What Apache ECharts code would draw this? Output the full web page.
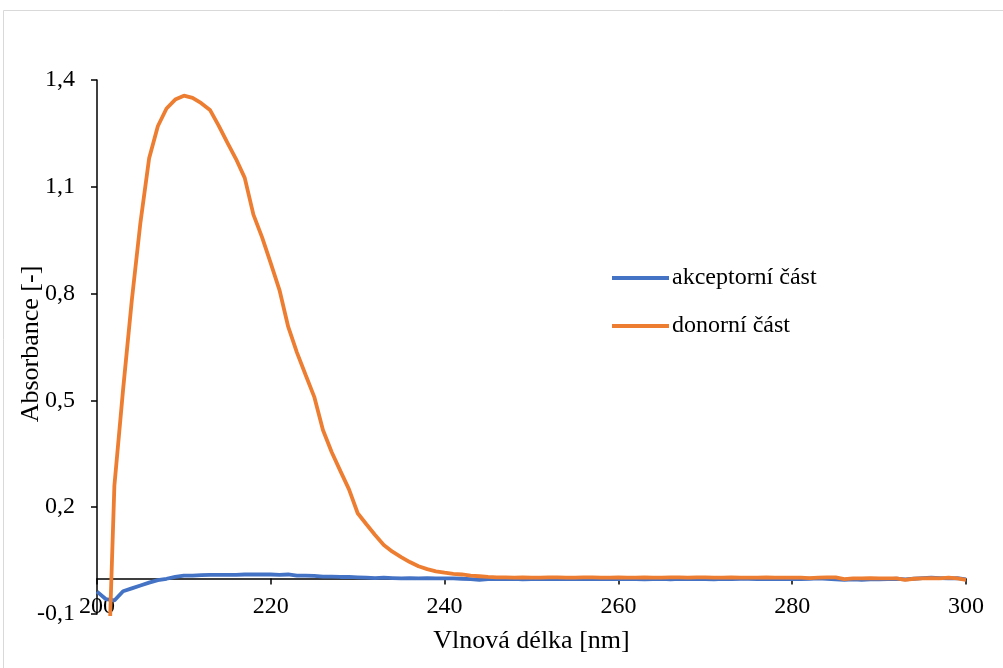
<!DOCTYPE html>
<html>
<head>
<meta charset="utf-8">
<title>Absorbance</title>
<script src="https://cdn.jsdelivr.net/npm/echarts@6/dist/echarts.min.js"></script>
<style>
  html, body { margin: 0; padding: 0; background: #fff; }
  #main { width: 1003px; height: 668px; }
</style>
</head>
<body>
<div id="main"></div>
<script>
// wavelength [nm]
var wavelengths = [
  200, 201, 202, 203, 204, 205, 206, 207, 208, 209,
  210, 211, 212, 213, 214, 215, 216, 217, 218, 219,
  220, 221, 222, 223, 224, 225, 226, 227, 228, 229,
  230, 231, 232, 233, 234, 235, 236, 237, 238, 239,
  240, 241, 242, 243, 244, 245, 246, 247, 248, 249,
  250, 251, 252, 253, 254, 255, 256, 257, 258, 259,
  260, 261, 262, 263, 264, 265, 266, 267, 268, 269,
  270, 271, 272, 273, 274, 275, 276, 277, 278, 279,
  280, 281, 282, 283, 284, 285, 286, 287, 288, 289,
  290, 291, 292, 293, 294, 295, 296, 297, 298, 299,
  300
];

// akceptorni cast
var akceptorni = [
  -0.037, -0.058, -0.062, -0.036, -0.028, -0.020, -0.012, -0.005, -0.001, 0.004,
  0.008, 0.008, 0.009, 0.010, 0.010, 0.010, 0.010, 0.011, 0.011, 0.011,
  0.011, 0.010, 0.011, 0.008, 0.008, 0.007, 0.005, 0.005, 0.004, 0.004,
  0.003, 0.002, 0.001, 0.002, 0.001, 0.000, 0.001, 0.000, 0.001, 0.000,
  0.000, 0.000, -0.001, -0.002, -0.004, -0.002, -0.001, -0.002, -0.001, -0.003,
  -0.002, -0.001, -0.002, -0.001, -0.002, -0.002, -0.001, -0.002, -0.001, -0.002,
  -0.002, -0.001, -0.002, -0.003, -0.002, -0.001, -0.003, -0.001, -0.002, -0.001,
  -0.002, -0.003, -0.001, -0.002, -0.001, -0.001, -0.002, -0.001, -0.002, -0.001,
  -0.002, -0.002, -0.001, 0.000, -0.001, -0.003, -0.004, -0.003, -0.004, -0.003,
  -0.003, -0.002, -0.001, -0.003, -0.001, 0.001, 0.002, 0.001, 0.000, 0.001,
  -0.003
];

// donorni cast
var donorni = [
  -0.6, -0.5, 0.26, 0.53, 0.78, 1.0, 1.18, 1.27, 1.32, 1.345,
  1.356, 1.35, 1.335, 1.316, 1.272, 1.224, 1.178, 1.125, 1.022, 0.958,
  0.885, 0.81, 0.707, 0.635, 0.572, 0.51, 0.417, 0.355, 0.302, 0.25,
  0.183, 0.152, 0.122, 0.094, 0.075, 0.06, 0.046, 0.034, 0.026, 0.02,
  0.016, 0.013, 0.011, 0.008, 0.006, 0.004, 0.003, 0.003, 0.002, 0.003,
  0.002, 0.002, 0.003, 0.003, 0.002, 0.002, 0.003, 0.003, 0.002, 0.002,
  0.003, 0.002, 0.002, 0.003, 0.002, 0.002, 0.003, 0.003, 0.002, 0.003,
  0.003, 0.002, 0.002, 0.003, 0.002, 0.002, 0.002, 0.003, 0.002, 0.002,
  0.002, 0.002, 0.001, 0.002, 0.003, 0.003, -0.002, 0.000, 0.000, 0.001,
  0.000, 0.000, 0.000, -0.004, -0.001, 0.000, 0.001, 0.000, 0.002, 0.000,
  -0.004
];

var seriesNames = ['akceptorní část', 'donorní část'];
var seriesColors = ['#4472C4', '#ED7D31'];

function pairs(ys) {
  return wavelengths.map(function (x, i) { return [x, ys[i]]; });
}

var font = 'Liberation Serif, Times New Roman, serif';
var chart = echarts.init(document.getElementById('main'));

chart.setOption({
  backgroundColor: '#fff',
  animation: false,
  textStyle: { fontFamily: font, color: '#000' },
  graphic: [{
    type: 'rect',
    shape: { x: 3.5, y: 10.5, width: 1100, height: 700 },
    style: { fill: 'none', stroke: '#d9d9d9', lineWidth: 1 },
    silent: true
  }],
  grid: { left: 97, right: 37, top: 80, bottom: 54, containLabel: false, outerBoundsMode: 'none' },
  legend: {
    orient: 'vertical',
    left: 612,
    top: 266,
    padding: 0,
    icon: 'rect',
    itemWidth: 57,
    itemHeight: 4,
    itemGap: 24,
    textStyle: { fontFamily: font, fontSize: 24, color: '#000', padding: [0, 0, 0, -2] },
    data: seriesNames
  },
  xAxis: {
    type: 'value',
    min: 200,
    max: 300,
    interval: 20,
    name: 'Vlnová délka [nm]',
    nameLocation: 'middle',
    nameGap: 14,
    nameMoveOverlap: false,
    nameTextStyle: { fontFamily: font, fontSize: 26, color: '#000' },
    axisLine: { onZero: true, lineStyle: { color: '#000', width: 1.5 } },
    axisTick: { show: true, length: 6, lineStyle: { color: '#000', width: 1.5 } },
    axisLabel: { fontFamily: font, fontSize: 24, color: '#000', margin: -19 },
    splitLine: { show: false }
  },
  yAxis: {
    type: 'value',
    min: -0.1,
    max: 1.4,
    interval: 0.3,
    name: 'Absorbance [-]',
    nameLocation: 'middle',
    nameGap: 53,
    nameMoveOverlap: false,
    nameTextStyle: { fontFamily: font, fontSize: 26, color: '#000', padding: [0, 0, 0, 6] },
    axisLine: { show: true, lineStyle: { color: '#000', width: 1.5 } },
    axisTick: { show: true, length: 6, lineStyle: { color: '#000', width: 1.5 } },
    axisLabel: {
      fontFamily: font, fontSize: 24, color: '#000', margin: 22,
      formatter: function (v) { return v.toFixed(1).replace('.', ','); }
    },
    splitLine: { show: false }
  },
  series: [
    {
      name: seriesNames[0],
      type: 'line',
      data: pairs(akceptorni),
      color: seriesColors[0],
      showSymbol: false,
      lineStyle: { width: 3.8 },
      clip: true
    },
    {
      name: seriesNames[1],
      type: 'line',
      data: pairs(donorni),
      color: seriesColors[1],
      showSymbol: false,
      lineStyle: { width: 3.8 },
      clip: true
    }
  ]
});
</script>
</body>
</html>
